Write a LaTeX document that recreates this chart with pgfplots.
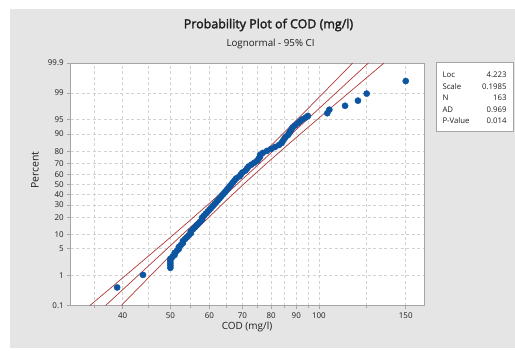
\documentclass[border=0pt]{standalone}
\usepackage{pgfplots}
\pgfplotsset{compat=1.18}
\usepackage{pgfplotstable}
\usepackage{fontspec}
\setmainfont{Open Sans}
\newfontfamily\semib{Open Sans}[FakeBold=2.2]
\definecolor{bg}{RGB}{229,229,229}
\definecolor{ptblue}{RGB}{12,85,160}
\definecolor{cic}{RGB}{176,58,58}
\definecolor{gridc}{RGB}{210,210,210}
\definecolor{framec}{RGB}{165,165,165}
\definecolor{txt}{RGB}{30,30,30}

\pgfplotstableread{
x z
39.0 -2.63
44.0 -2.31
50 -2.13
50 -2.07
50 -2.01
50 -1.95
50 -1.90
50.5 -1.85
51 -1.80
51 -1.75
51.5 -1.70
52 -1.65
52 -1.60
52.5 -1.55
53 -1.50
53 -1.45
53.5 -1.40
54 -1.35
54.5 -1.30
55 -1.25
55 -1.20
55.5 -1.15
56 -1.10
56.5 -1.05
57 -1.00
57.5 -0.95
58 -0.90
58 -0.85
58.5 -0.80
59 -0.75
59.5 -0.70
60 -0.65
60.5 -0.60
61 -0.55
61.5 -0.50
62 -0.45
62.5 -0.40
63 -0.35
63.5 -0.30
64 -0.25
64.5 -0.20
65 -0.15
65.5 -0.10
66 -0.05
66.5 0.00
67 0.05
67.5 0.10
68 0.15
69 0.20
69.5 0.25
70 0.30
71 0.35
71.5 0.40
72 0.45
73 0.50
74 0.55
75 0.60
75.5 0.65
76 0.70
76 0.75
77 0.80
78.5 0.85
80 0.90
81.5 0.95
83 1.00
84 1.05
84.5 1.10
85 1.15
85.5 1.20
86.5 1.25
87 1.30
87.5 1.35
88 1.40
88.5 1.45
89.5 1.50
90.5 1.55
91.5 1.60
92.5 1.65
94 1.70
95 1.74
104 1.81
105 1.90
113 2.00
120 2.13
125 2.31
150 2.63
}\pts

\pgfplotstableread{
z xl xf xu
-3.0902 34.34 36.95 39.76
-2.5 39.05 41.54 44.19
-2.0 43.51 45.87 48.36
-1.5 48.46 50.66 52.96
-1.0 53.89 55.94 58.07
-0.5 59.82 61.79 63.82
0.0 66.19 68.24 70.35
0.5 73.00 75.37 77.85
1.0 80.17 83.22 86.39
1.5 87.92 91.91 96.09
2.0 96.27 101.49 106.99
2.5 105.36 112.09 119.25
3.0902 117.10 126.00 135.56
}\cilines

\begin{document}
\begin{tikzpicture}[x=1bp,y=1bp]
\useasboundingbox (0,0) rectangle (515,350);
\fill[bg] (10,2) rectangle (515,341);
\begin{axis}[
  at={(70.7bp,44.5bp)}, anchor=south west,
  width=353.6bp, height=242.5bp, scale only axis,
  xmode=log, xmin=31.4, xmax=163.6,
  ymin=-3.0902, ymax=3.0902,
  axis background/.style={fill=white},
  xtick={40,50,60,70,80,90,100,150},
  xticklabels={40,50,60,70,80,90,100,150},
  minor xtick={35,45,55,65,75,85,95,125},
  ytick={-3.0902,-2.3263,-1.6449,-1.2816,-0.8416,-0.5244,-0.2533,0,0.2533,0.5244,0.8416,1.2816,1.6449,2.3263,3.0902},
  yticklabels={0.1,1,5,10,20,30,40,50,60,70,80,90,95,99,99.9},
  grid=both,
  major grid style={gridc, dash pattern=on 3bp off 2.5bp, line width=0.6bp},
  minor grid style={gridc, dash pattern=on 3bp off 2.5bp, line width=0.6bp},
  axis line style={framec, line width=0.6bp},
  tick style={framec, line width=0.6bp},
  tick align=outside, xtick pos=bottom, ytick pos=left,
  major tick length=3.5bp, minor tick length=2.5bp,
  ticklabel style={font=\fontsize{8}{9.5}\selectfont, text=txt},
  xticklabel style={yshift=-0.5bp},
  clip=true,
]
\addplot[cic, line width=0.7bp] table[x=xl,y=z]{\cilines};
\addplot[cic, line width=0.7bp] table[x=xf,y=z]{\cilines};
\addplot[cic, line width=0.7bp] table[x=xu,y=z]{\cilines};
\addplot[only marks, mark=*, mark size=3.1bp, mark options={draw=ptblue, fill=ptblue}] table[x=x,y=z]{\pts};
\end{axis}
% titles and labels
\node[text=txt, font=\semib\fontsize{12.5}{15}\selectfont] at (268.5,325) {Probability Plot of COD (mg/l)};
\node[text=txt, font=\fontsize{9.8}{11}\selectfont] at (270.5,306) {Lognormal - 95\% CI};
\node[text=txt, font=\fontsize{10.5}{12}\selectfont, rotate=90] at (35,180) {Percent};
\node[text=txt, font=\fontsize{10}{12}\selectfont] at (247,23) {COD (mg/l)};
% stats box
\draw[framec, fill=white, line width=0.6bp] (436,218.5) rectangle (513.3,287.5);
\begin{scope}[font=\fontsize{7.8}{9}\selectfont, text=txt]
\node[anchor=west] at (439,275) {Loc};
\node[anchor=west] at (439,263.5) {Scale};
\node[anchor=west] at (439,252) {N};
\node[anchor=west] at (439,240.5) {AD};
\node[anchor=west] at (439,229) {P-Value};
\node[anchor=east] at (510,275) {4.223};
\node[anchor=east] at (510,263.5) {0.1985};
\node[anchor=east] at (510,252) {163};
\node[anchor=east] at (510,240.5) {0.969};
\node[anchor=east] at (510,229) {0.014};
\end{scope}
\end{tikzpicture}
\end{document}
